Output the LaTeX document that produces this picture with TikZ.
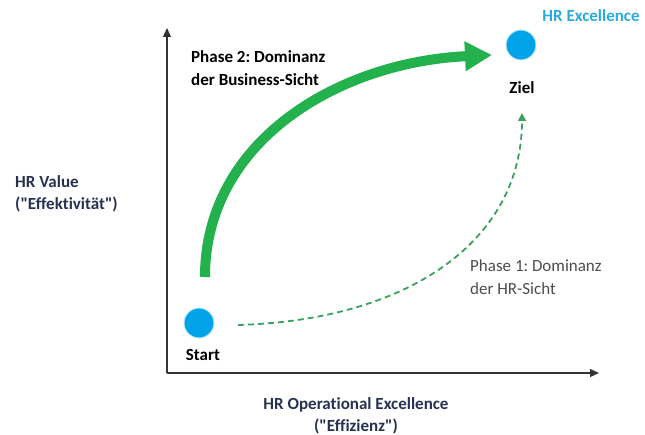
\documentclass[tikz,border=0pt]{standalone}
\usepackage{fontspec}
\setmainfont{Carlito}[Ligatures={NoCommon}]
\usetikzlibrary{arrows.meta}
\definecolor{axisnavy}{RGB}{38,50,80}
\definecolor{dotblue}{RGB}{0,162,232}
\definecolor{excblue}{RGB}{41,171,226}
\definecolor{pathgreen}{RGB}{34,177,76}
\definecolor{dashgreen}{RGB}{60,160,95}
\frenchspacing
\begin{document}
\begin{tikzpicture}[x=1pt,y=-1pt,
    every node/.style={inner sep=0pt,font=\fontsize{17}{22}\selectfont},
    axislabel/.style={text=axisnavy,font=\fontsize{17}{22}\selectfont\bfseries,align=left},
    dot/.style={circle,fill=dotblue,draw=dotblue!25,line width=1pt,minimum size=30pt}]
  \useasboundingbox (0,0) rectangle (645,435);
  % axes
  \coordinate (origin) at (167,373);
  \coordinate (ytop) at (167,28);
  \coordinate (xend) at (599,373);
  \draw [line width=1.4pt,black!80,-{Triangle[length=9pt,width=8pt]}] (origin) -- (ytop);
  \draw [line width=1.4pt,black!80,-{Triangle[length=9pt,width=8pt]}] (origin) -- (xend);
  \node [axislabel,anchor=west] (yl) at (15,194) {HR Value\\(\textquotedbl Effektivität\textquotedbl)};
  \node [axislabel,align=center] (xl) at (356,416) {HR Operational Excellence\\(\textquotedbl Effizienz\textquotedbl)};
  % start and goal
  \node [dot] (start) at (199,323) {};
  \node [font=\fontsize{17}{22}\selectfont\bfseries] (startlbl) at (203,355) {Start};
  \node [dot] (ziel) at (521,45) {};
  \node [font=\fontsize{17}{22}\selectfont\bfseries] (ziellbl) at (522,88) {Ziel};
  \node [text=excblue,font=\fontsize{17}{22}\selectfont\bfseries] (exc) at (591,16) {HR Excellence};
  % phase 2
  \coordinate (p2a) at (205,277);
  \coordinate (p2b) at (492,55);
  \draw [pathgreen,line width=10pt,-{Triangle[length=27pt,width=28pt]}]
    (p2a) .. controls (205,140) and (340,62) .. (p2b);
  \node [anchor=west,align=left,font=\fontsize{17}{23}\selectfont\bfseries] (p2) at (191,68) {Phase 2: Dominanz\\der Business-Sicht};
  % phase 1
  \coordinate (p1a) at (238,325);
  \coordinate (p1b) at (522,113);
  \draw [dashgreen,line width=1.8pt,dash pattern=on 6pt off 4pt,-{Triangle[length=8pt,width=8pt]}]
    (p1a) .. controls (410,320) and (522,240) .. (p1b);
  \node [anchor=west,align=left,text=black!70,font=\fontsize{17}{23}\selectfont] (p1) at (470,277) {Phase 1: Dominanz\\der HR-Sicht};
\end{tikzpicture}
\end{document}
